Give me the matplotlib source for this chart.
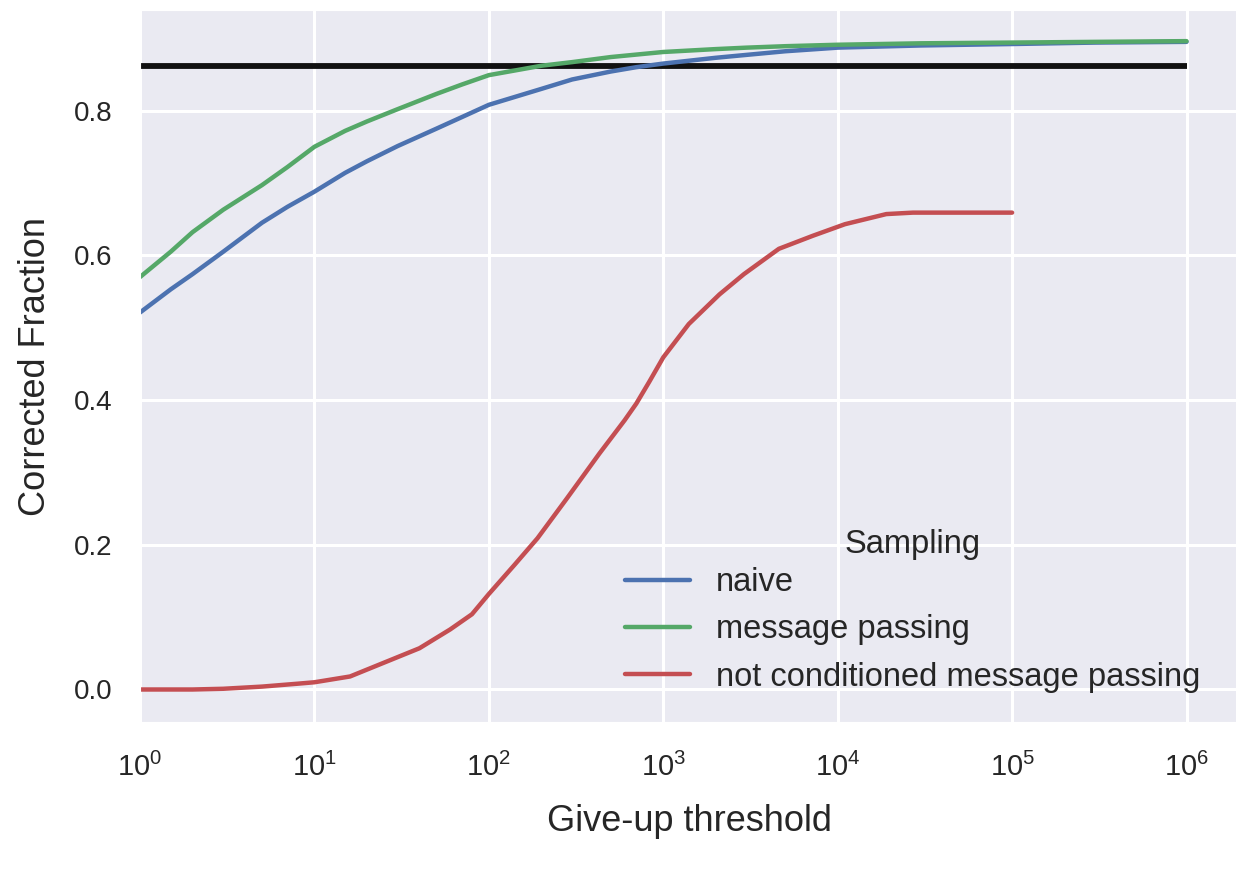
import numpy as np
import matplotlib
matplotlib.use("Agg")
import matplotlib.pyplot as plt
import seaborn as sns

# ---------------------------------------------------------
# Data
# ---------------------------------------------------------
naive_x = [1, 1.5, 2, 3, 5, 7, 10, 15, 20, 30, 50, 70, 100, 200, 300, 500,
           700, 1000, 2000, 3000, 5000, 10000, 30000, 100000, 300000, 1000000]
naive_y = [0.521, 0.553, 0.574, 0.605, 0.645, 0.667, 0.688, 0.714, 0.730,
           0.751, 0.775, 0.791, 0.808, 0.830, 0.843, 0.854, 0.860, 0.865,
           0.873, 0.877, 0.882, 0.887, 0.890, 0.892, 0.894, 0.895]

mp_x = [1, 1.5, 2, 3, 5, 7, 10, 15, 20, 30, 50, 70, 100, 200, 300, 500,
        1000, 2000, 3000, 5000, 10000, 30000, 100000, 300000, 1000000]
mp_y = [0.570, 0.605, 0.632, 0.663, 0.697, 0.722, 0.750, 0.772, 0.785,
        0.802, 0.823, 0.836, 0.849, 0.862, 0.867, 0.874, 0.881, 0.885,
        0.887, 0.889, 0.891, 0.893, 0.894, 0.895, 0.896]

ncmp_x = [1, 2, 3, 5, 8, 10, 16, 25, 40, 60, 80, 100, 140, 190, 280, 430,
          600, 700, 830, 1000, 1400, 2100, 2900, 4600, 7200, 11000, 19000,
          27000, 100000]
ncmp_y = [0.0, 0.0, 0.001, 0.004, 0.008, 0.010, 0.018, 0.037, 0.057, 0.083,
          0.104, 0.132, 0.172, 0.209, 0.264, 0.326, 0.372, 0.395, 0.425,
          0.459, 0.505, 0.546, 0.574, 0.609, 0.627, 0.643, 0.657, 0.659,
          0.659]

reference_level = 0.862
labels = ["naive", "message passing", "not conditioned message passing"]

# ---------------------------------------------------------
# Style
# ---------------------------------------------------------
sns.set_style("darkgrid")
plt.rcParams["font.family"] = ["Liberation Sans", "DejaVu Sans"]
plt.rcParams["mathtext.fontset"] = "custom"
plt.rcParams["mathtext.rm"] = "Liberation Sans"
plt.rcParams["mathtext.it"] = "Liberation Sans:italic"
plt.rcParams["mathtext.bf"] = "Liberation Sans:bold"

colors = ["#4C72B0", "#55A868", "#C44E52"]
text_col = "#262626"

fig = plt.figure(figsize=(12.36, 8.71), dpi=100)
ax = fig.add_axes([0.1133, 0.171, 0.889, 0.8175])

ax.plot(naive_x, naive_y, color=colors[0], lw=3.2, label=labels[0])
ax.plot(mp_x, mp_y, color=colors[1], lw=3.2, label=labels[1])
ax.plot(ncmp_x, ncmp_y, color=colors[2], lw=3.2, label=labels[2])
ax.hlines(reference_level, 1, 1e6, color="#111111", lw=4.2, zorder=1.5)

ax.set_xscale("log")
ax.set_xlim(1, 10 ** 6.3)
ax.set_ylim(-0.045, 0.939)
ax.set_xticks([10 ** k for k in range(7)])
ax.set_yticks([0.0, 0.2, 0.4, 0.6, 0.8])
ax.minorticks_off()
ax.grid(True, which="major", color="white", lw=2.2)

ax.tick_params(axis="x", labelsize=21, pad=22, length=0, colors=text_col)
ax.tick_params(axis="y", labelsize=20, pad=20, length=0, colors=text_col)
ax.set_xlabel("Give-up threshold", fontsize=26, color=text_col, labelpad=16)
ax.set_ylabel("Corrected Fraction", fontsize=26, color=text_col, labelpad=15)

leg = ax.legend(title="Sampling", loc="lower right", frameon=False,
                fontsize=23.5, title_fontsize=23.5, handlelength=2.0,
                handletextpad=0.8, labelspacing=0.5,
                bbox_to_anchor=(0.992, 0.0))
leg._legend_box.sep = 5  # tighter gap under the title
for t in leg.get_texts():
    t.set_color(text_col)
leg.get_title().set_color(text_col)

fig.savefig("out.png", dpi=100)
